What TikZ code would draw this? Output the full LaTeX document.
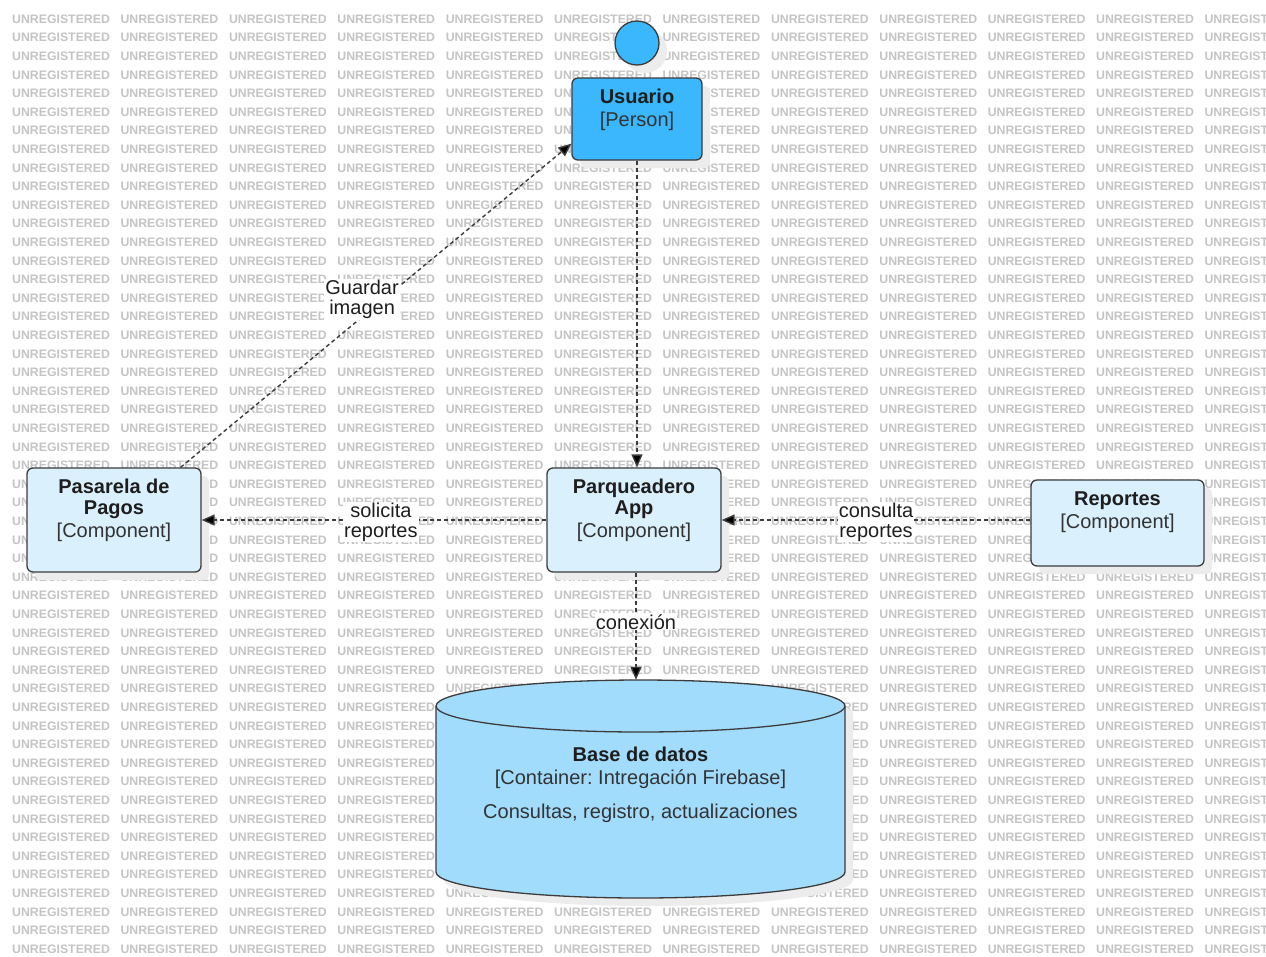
\documentclass[tikz,border=0pt]{standalone}
\usepackage{fontspec}
\setmainfont{Liberation Sans}
\usetikzlibrary{arrows.meta,calc,shadows}
\frenchspacing
\definecolor{usrfill}{HTML}{3AB7FD}
\definecolor{compfill}{HTML}{DAF0FD}
\definecolor{dbfill}{HTML}{A2DCFC}
\definecolor{edgec}{HTML}{3C3C3C}
\definecolor{inkc}{HTML}{1E1E1E}
\definecolor{subc}{HTML}{333333}
\definecolor{wmark}{HTML}{C4C4C4}
\definecolor{shadowc}{HTML}{ECECEC}
\tikzset{
  box/.style={draw=edgec, line width=1.3pt, rounded corners=6pt, inner sep=0pt,
    drop shadow={shadow xshift=8pt, shadow yshift=-8pt, fill=shadowc, opacity=1, draw=none}},
  comp/.style={box, fill=compfill},
  person/.style={box, fill=usrfill},
  txt/.style={align=center, text=inkc, inner sep=0pt, font=\fontsize{20}{21}\selectfont},
  rel/.style={draw=edgec, line width=1.4pt, dash pattern=on 4pt off 3pt,
    -{Triangle[length=13pt,width=11pt,fill=black]}},
  lbl/.style={fill=white, text=inkc, inner sep=1pt, align=center,
    font=\fontsize{20}{20}\selectfont},
  wm/.style={anchor=west, inner sep=0pt, text=wmark,
    font=\bfseries\fontsize{12.3}{12.3}\selectfont}
}
\newcommand{\sub}[1]{{\color{subc}\normalfont\fontsize{20}{21}\selectfont #1}}
\begin{document}
\begin{tikzpicture}[x=1pt,y=-1pt]
\useasboundingbox (0,0) rectangle (1266,956);
\fill[white] (0,0) rectangle (1266,956);

% tiled background text
\begin{scope}
\clip (0,0) rectangle (1266,956);
\foreach \r in {0,...,50}{
  \foreach \c in {0,...,11}{
    \node[wm] at ({12+108.4*\c},{19+18.6*\r}) {UNREGISTERED};
  }
}
\end{scope}

% person: head and body
\fill[shadowc] (645,51) circle (22);
\draw[edgec, line width=1.3pt, fill=usrfill] (637,43) circle (22);
\node[person, minimum width=130, minimum height=82] (usr) at (637,119) {};
\node[txt] at (637,109.5) {\textbf{Usuario}\\[2pt]\sub{[Person]}};

% components
\node[comp, minimum width=174, minimum height=104] (pas) at (114,520) {};
\node[txt] at (114,510) {\textbf{Pasarela de}\\\textbf{Pagos}\\[2pt]\sub{[Component]}};

\node[comp, minimum width=174, minimum height=104] (par) at (634,520) {};
\node[txt] at (634,510) {\textbf{Parqueadero}\\\textbf{App}\\[2pt]\sub{[Component]}};

\node[comp, minimum width=173, minimum height=86] (rep) at (1117.5,523) {};
\node[txt] at (1117.5,512.5) {\textbf{Reportes}\\[2pt]\sub{[Component]}};

% database cylinder
\node[inner sep=0pt, minimum width=409, minimum height=218] (db) at (640.5,789) {};
\fill[shadowc] (444,714) -- (444,880) arc[start angle=180,end angle=0,x radius=204.5,y radius=26]
  -- (853,714) arc[start angle=360,end angle=180,x radius=204.5,y radius=26] -- cycle;
\fill[dbfill] (436,706) -- (436,872) arc[start angle=180,end angle=0,x radius=204.5,y radius=26]
  -- (845,706) arc[start angle=360,end angle=180,x radius=204.5,y radius=26] -- cycle;
\draw[edgec, line width=1.3pt] (436,706) -- (436,872)
  arc[start angle=180,end angle=0,x radius=204.5,y radius=26] -- (845,706);
\draw[edgec, line width=1.3pt] (640.5,706) ellipse [x radius=204.5, y radius=26];
\node[txt] at (640.5,784.5) {\textbf{Base de datos}\\[2pt]\sub{[Container: Intregación Firebase]}\\[13pt]\sub{Consultas, registro, actualizaciones}};

% relationships
\draw[rel] ($(pas.north east)+(-21,0)$) -- node[lbl, pos=0.49, xshift=-10pt, yshift=9pt] {Guardar\\imagen} ($(usr.south west)+(0,-17)$);
\draw[rel] (usr.south) -- (usr.south |- par.north);
\draw[rel] (par.west) -- node[lbl, pos=0.48, yshift=-2pt] {solicita\\reportes} (pas.east);
\draw[rel] (rep.west |- par.east) -- node[lbl, pos=0.5, yshift=-2pt] {consulta\\reportes} (par.east);
\draw[rel] ($(par.south)+(2,0)$) -- node[lbl, pos=0.46] {conexión} ($(par.south |- db.north)+(2,0)$);
\end{tikzpicture}
\end{document}
